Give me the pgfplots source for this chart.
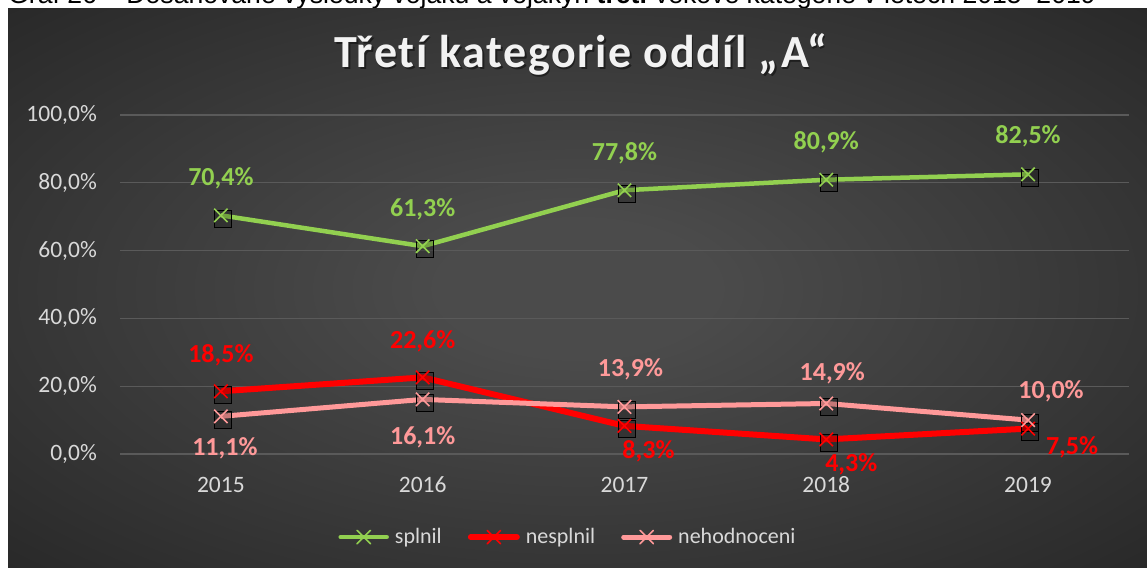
\documentclass[border=0pt]{standalone}
\usepackage{fontspec}
\setmainfont{Carlito}
\newfontfamily\arialfont{Liberation Sans}
\newfontfamily\titlefont[LetterSpace=3.5,Ligatures={NoCommon}]{Carlito}
\usepackage{pgfplots}
\usepackage{pgfplotstable}
\pgfplotsset{compat=1.18}
\definecolor{cGreen}{HTML}{92D050}
\definecolor{cRed}{HTML}{FF0000}
\definecolor{cPink}{HTML}{FF9999}
\definecolor{tickgray}{HTML}{D9D9D9}
\definecolor{titlecol}{HTML}{F2F2F2}
\definecolor{gridcol}{HTML}{5A5A5A}
\definecolor{bgin}{HTML}{4B4B4B}
\definecolor{bgout}{HTML}{262626}
\pgfdeclareradialshading{bgshade}{\pgfpoint{0bp}{0bp}}{color(0bp)=(bgin); color(6bp)=(bgin); color(38bp)=(bgout); color(50bp)=(bgout)}

\pgfplotstableread{
x y dx dy
0 70.4 0 37
1 61.3 0 37
2 77.8 0 37
3 80.9 0 37
4 82.5 0 38
}\splnil
\pgfplotstableread{
x y dx dy
0 18.5 0 36
1 22.6 0 36
2 8.3 24 -25
3 4.3 25 -25
4 7.5 44 -19
}\nesplnil
\pgfplotstableread{
x y dx dy
0 11.1 4 -32
1 16.1 0 -38
2 13.9 6 38
3 14.9 6 30
4 10.0 23 29
}\nehodnoceni

\pgfplotsset{
  lbl/.style={
    visualization depends on={\thisrow{dx}\as\dx},
    visualization depends on={\thisrow{dy}\as\dy},
    nodes near coords={\pgfmathprintnumber[fixed,fixed zerofill,precision=1,use comma]{\pgfplotspointmeta}\%},
    every node near coord/.append style={anchor=center, inner sep=0pt, xshift=\dx bp, yshift=\dy bp,
      font=\fontsize{26bp}{30bp}\selectfont\bfseries, text=#1},
  },
  shadow/.style={forget plot, only marks, mark=square*, mark size=8.5bp, draw=none, fill=black, fill opacity=0.22,
    every mark/.append style={xshift=2bp, yshift=-3bp}},
}

\begin{document}
\begin{tikzpicture}
\path[use as bounding box, clip] (0,0) rectangle (1147bp,568bp);
\fill[white] (0,0) rectangle (1147bp,568bp);
\node[anchor=base west, inner sep=0pt, text=black, font=\arialfont\fontsize{26.6bp}{30bp}\selectfont] at (8bp,564bp)
  {Graf 26 – Dosahované výsledky vojáků a vojákyň \textbf{třetí} věkové kategorie v letech 2015–2019};
\shade[shading=bgshade] (8bp,0bp) rectangle (1147bp,559bp);
\node[anchor=base, inner sep=0pt, text=black, opacity=0.45, font=\titlefont\fontsize{46bp}{50bp}\selectfont\bfseries] at (582.5bp,498bp) {Třetí kategorie oddíl „A“};
\node[anchor=base, inner sep=0pt, text=titlecol, font=\titlefont\fontsize{46bp}{50bp}\selectfont\bfseries] at (581bp,500bp) {Třetí kategorie oddíl „A“};
\begin{axis}[
  at={(120bp,114bp)}, anchor=south west,
  scale only axis, width=1009bp, height=339bp,
  xmin=-0.5, xmax=4.5, ymin=0, ymax=100,
  axis line style={draw=none},
  major tick length=0pt,
  xtick={0,1,2,3,4}, xticklabels={2015,2016,2017,2018,2019},
  ytick={0,20,40,60,80,100},
  ymajorgrids, grid style={gridcol, line width=1.2bp},
  /pgf/number format/assume math mode=true,
  yticklabel={\pgfmathprintnumber[fixed,fixed zerofill,precision=1,use comma]{\tick}\%},
  yticklabel style={anchor=east, inner sep=0pt, xshift=-23bp, text=tickgray, font=\fontsize{23.5bp}{27bp}\selectfont},
  xticklabel style={anchor=base, inner sep=0pt, yshift=-38.5bp, text=tickgray, font=\fontsize{23.5bp}{27bp}\selectfont},
  legend image code/.code={\draw[#1, line cap=round, mark repeat=2, mark phase=2] plot coordinates {(0bp,0bp) (23bp,0bp) (46bp,0bp)};},
  legend style={at={(0.443,-0.245)}, anchor=center, legend columns=3, draw=none, fill=none,
    text=tickgray, font=\fontsize{22bp}{26bp}\selectfont,
    nodes={inner sep=0pt},
    /tikz/every odd column/.append style={column sep=6bp},
    /tikz/every even column/.append style={column sep=26bp}},
  clip=false,
]
% marker shadows
\addplot[shadow] table[x=x,y=y] {\splnil};
\addplot[shadow] table[x=x,y=y] {\nesplnil};
\addplot[shadow] table[x=x,y=y] {\nehodnoceni};

\addplot[cGreen, line width=4.5bp, line join=round, mark=x, mark size=9.5bp, mark options={line width=1.6bp, solid}, lbl=cGreen] table[x=x,y=y] {\splnil};
\addlegendentry{splnil}
\addplot[cRed, line width=6bp, line join=round, mark=x, mark size=9.5bp, mark options={line width=1.6bp, solid}, lbl=cRed] table[x=x,y=y] {\nesplnil};
\addlegendentry{nesplnil}
\addplot[cPink, line width=5bp, line join=round, mark=x, mark size=9.5bp, mark options={line width=1.6bp, solid}, lbl=cPink] table[x=x,y=y] {\nehodnoceni};
\addlegendentry{nehodnoceni}
\end{axis}
\end{tikzpicture}
\end{document}
